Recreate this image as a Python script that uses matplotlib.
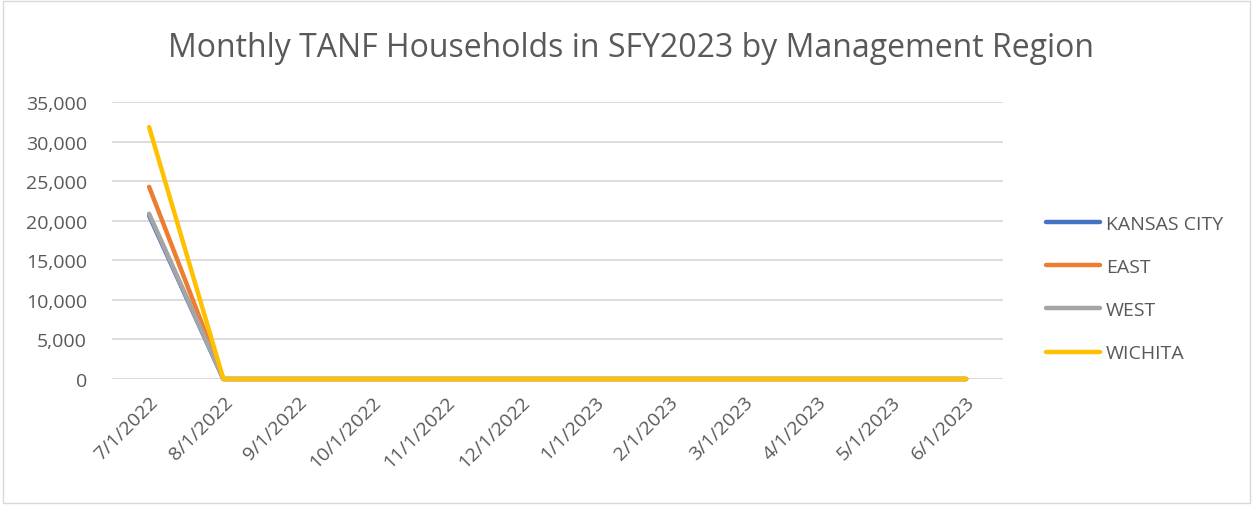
import matplotlib.pyplot as plt
from matplotlib.patches import Rectangle

months = ['7/1/2022', '8/1/2022', '9/1/2022', '10/1/2022', '11/1/2022', '12/1/2022',
          '1/1/2023', '2/1/2023', '3/1/2023', '4/1/2023', '5/1/2023', '6/1/2023']

kansas_city = [20650, 0, 0, 0, 0, 0, 0, 0, 0, 0, 0, 0]
east = [24300, 0, 0, 0, 0, 0, 0, 0, 0, 0, 0, 0]
west = [20900, 0, 0, 0, 0, 0, 0, 0, 0, 0, 0, 0]
wichita = [31850, 0, 0, 0, 0, 0, 0, 0, 0, 0, 0, 0]

series = [('KANSAS CITY', kansas_city, '#4472C4'),
          ('EAST', east, '#ED7D31'),
          ('WEST', west, '#A5A5A5'),
          ('WICHITA', wichita, '#FFC000')]

text_color = '#595959'
plt.rcParams['font.family'] = ['Open Sans', 'DejaVu Sans']

fig = plt.figure(figsize=(12.54, 5.06), dpi=100)
ax = fig.add_axes([0.0893, 0.249, 0.7107, 0.547])

x = list(range(len(months)))
for name, vals, color in series:
    ax.plot(x, vals, color=color, linewidth=3.2, label=name,
            solid_capstyle='round', clip_on=False)

ax.set_xlim(-0.5, len(months) - 0.5)
ax.set_ylim(0, 35000)
ax.set_yticks(range(0, 35001, 5000))
ax.set_yticklabels([f'{v:,}' for v in range(0, 35001, 5000)])
ax.set_xticks(x)
ax.set_xticklabels(months, rotation=45, ha='right', rotation_mode='anchor')
ax.tick_params(axis='both', length=0, labelsize=14, colors=text_color)
ax.tick_params(axis='y', pad=18)
ax.tick_params(axis='x', pad=10)
ax.grid(axis='y', color='#D9D9D9', linewidth=1.3)
ax.set_axisbelow(True)
for s in ax.spines.values():
    s.set_visible(False)

fig.text(0.503, 0.905, 'Monthly TANF Households in SFY2023 by Management Region',
         ha='center', va='center', fontsize=23, color=text_color)

ax.legend(loc='center left', bbox_to_anchor=(1.028, 0.327), frameon=False,
          fontsize=14, labelcolor=text_color, handlelength=2.8,
          handletextpad=0.3, labelspacing=1.3)

fig.patches.append(Rectangle((0.002, 0.004), 0.995, 0.992, transform=fig.transFigure,
                             fill=False, edgecolor='#D9D9D9', linewidth=1))

fig.savefig('out.png', dpi=100)
